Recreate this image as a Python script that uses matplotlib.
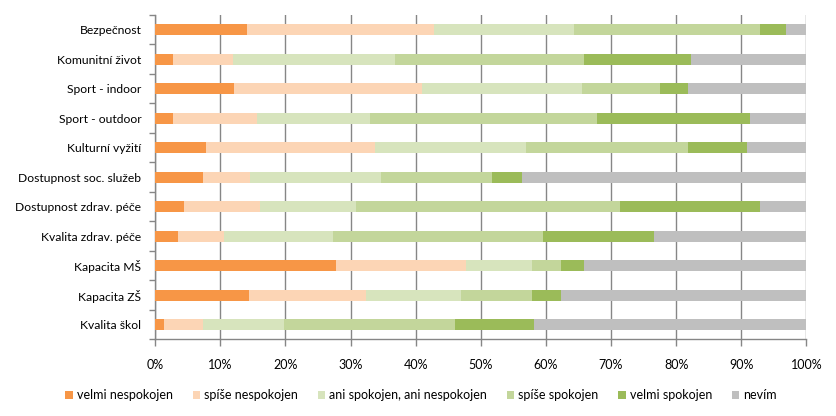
import numpy as np
import matplotlib
matplotlib.use("Agg")
import matplotlib.pyplot as plt

plt.rcParams['font.family'] = ['Lato', 'DejaVu Sans']

categories = ["Bezpečnost", "Komunitní život", "Sport - indoor", "Sport - outdoor",
              "Kulturní vyžití", "Dostupnost soc. služeb", "Dostupnost zdrav. péče",
              "Kvalita zdrav. péče", "Kapacita MŠ", "Kapacita ZŠ", "Kvalita škol"]

series_names = ["velmi nespokojen", "spíše nespokojen", "ani spokojen, ani nespokojen",
                "spíše spokojen", "velmi spokojen", "nevím"]

# share of answers in %, per category
velmi_nespokojen = [14.1, 2.7, 12.1, 2.7, 7.8, 7.3, 4.4, 3.5, 27.8, 14.4, 1.3]
spise_nespokojen = [28.7, 9.3, 28.9, 12.9, 26.0, 7.3, 11.7, 7.0, 19.9, 18.0, 6.1]
ani_ani = [21.5, 24.9, 24.5, 17.4, 23.1, 20.0, 14.8, 16.8, 10.1, 14.6, 12.4]
spise_spokojen = [28.6, 28.9, 12.1, 34.8, 24.9, 17.2, 40.5, 32.3, 4.5, 10.8, 26.3]
velmi_spokojen = [4.0, 16.5, 4.2, 23.5, 9.1, 4.6, 21.5, 17.0, 3.5, 4.6, 12.1]
nevim = [3.1, 17.7, 18.2, 8.7, 9.1, 43.6, 7.1, 23.4, 34.2, 37.6, 41.8]

colors = ["#F79646", "#FCD5B5", "#D7E4BD", "#C3D69B", "#9BBB59", "#BFBFBF"]

data = np.array([velmi_nespokojen, spise_nespokojen, ani_ani,
                 spise_spokojen, velmi_spokojen, nevim])
data = data / data.sum(axis=0) * 100

fig = plt.figure(figsize=(8.37, 4.16), dpi=100)
ax = fig.add_axes([0.1855, 0.184, 0.7778, 0.78])

y = np.arange(len(categories))
left = np.zeros(len(categories))
for vals, name, c in zip(data, series_names, colors):
    ax.barh(y, vals, left=left, height=0.38, color=c, label=name, zorder=3)
    left += vals

grid_c = "#868686"
ax.set_xlim(0, 100)
ax.set_ylim(len(categories) - 0.5, -0.5)
ax.set_xticks(np.arange(0, 101, 10))
ax.set_xticklabels([f"{v}%" for v in range(0, 101, 10)], fontsize=9)
ax.xaxis.grid(True, color=grid_c, linewidth=1, zorder=0)
ax.set_yticks(y)
ax.set_yticklabels(categories, fontsize=8.7)
ax.set_yticks(np.arange(-0.5, len(categories), 1), minor=True)
ax.tick_params(axis='y', which='major', length=0, pad=10)
ax.tick_params(axis='y', which='minor', length=4, color=grid_c, width=1)
ax.tick_params(axis='x', length=5, color=grid_c, width=1, pad=9)

for s in ["top", "right"]:
    ax.spines[s].set_visible(False)
for s in ["left", "bottom"]:
    ax.spines[s].set_color(grid_c)
    ax.spines[s].set_linewidth(1)

fig.legend(loc="center", bbox_to_anchor=(0.503, 0.05), ncol=6, frameon=False,
           fontsize=9, handlelength=0.6, handleheight=0.6, handletextpad=0.3,
           columnspacing=1.6)

fig.savefig("out.png", dpi=100)
